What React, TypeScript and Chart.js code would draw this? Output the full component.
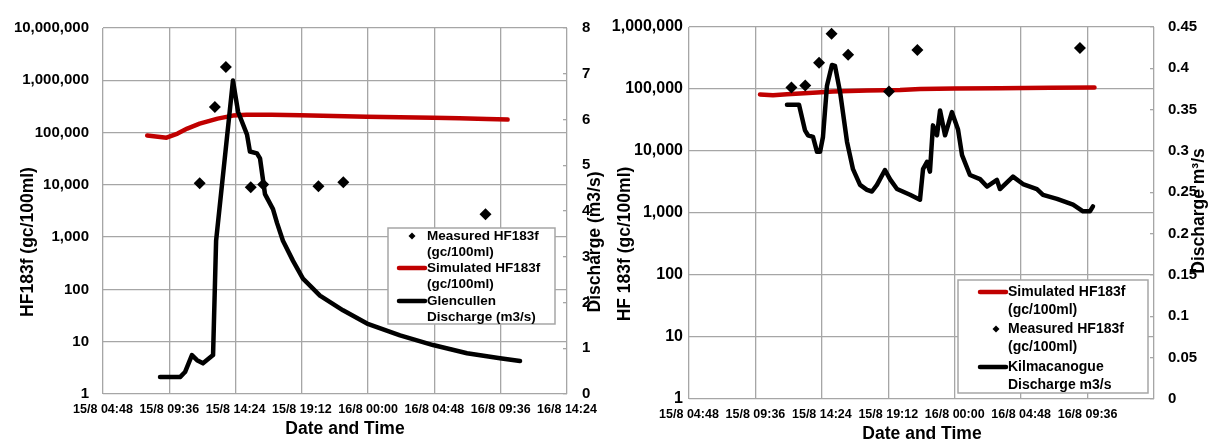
import React, { useEffect, useRef } from 'react';
import { Chart, registerables } from 'chart.js';

Chart.register(...registerables);

const FONT = "'Liberation Sans', Arial, Helvetica, sans-serif";
const GRID = '#a6a6a6';
const RED = '#c00000';

// ---------- axes (x in hours after 15/8 00:00) ----------
const xTickHours = [4.8, 9.6, 14.4, 19.2, 24, 28.8, 33.6, 38.4];
const xTickLabelsLeft = ['15/8 04:48', '15/8 09:36', '15/8 14:24', '15/8 19:12', '16/8 00:00', '16/8 04:48', '16/8 09:36', '16/8 14:24'];
const xTickLabelsRight = ['15/8 04:48', '15/8 09:36', '15/8 14:24', '15/8 19:12', '16/8 00:00', '16/8 04:48', '16/8 09:36', ''];
const logTicksLeft = [1, 10, 100, 1000, 10000, 100000, 1000000, 10000000];
const logTicksRight = [1, 10, 100, 1000, 10000, 100000, 1000000];
const dischargeTicksLeft = [0, 1, 2, 3, 4, 5, 6, 7, 8];
const dischargeTicksRight = [0, 0.05, 0.1, 0.15, 0.2, 0.25, 0.3, 0.35, 0.4, 0.45];

// ---------- Glencullen (left) ----------
const gMeasuredHours = [11.8, 12.9, 13.7, 15.5, 16.4, 20.4, 22.2, 32.5];
const gMeasuredValues = [10700, 310000, 1790000, 9000, 10200, 9400, 11200, 2750];

const gSimHours = [8.0, 9.4, 10.2, 10.9, 11.8, 13.1, 14.2, 15.2, 17.0, 19.1, 21.5, 23.9, 26.3, 28.7, 30.6, 32.6, 34.1];
const gSimValues = [87700, 80000, 95700, 119000, 148000, 185000, 211000, 220000, 220000, 214000, 207000, 201000, 197000, 193000, 188000, 182000, 177000];

const gFlowHours = [8.93, 10.38, 10.74, 11.24, 11.61, 12.04, 12.77, 12.99, 14.21, 14.58, 15.23, 15.44, 15.95, 16.17, 16.53, 17.11, 17.40, 17.83, 18.56, 19.28, 19.79, 20.51, 22.18, 23.92, 26.31, 28.70, 31.16, 33.55, 35.0];
const gFlowValues = [0.37, 0.37, 0.48, 0.85, 0.74, 0.67, 0.85, 3.35, 6.85, 6.17, 5.67, 5.30, 5.26, 5.15, 4.37, 4.04, 3.74, 3.35, 2.91, 2.52, 2.37, 2.15, 1.83, 1.54, 1.28, 1.07, 0.89, 0.78, 0.72];

// ---------- Kilmacanogue (right) ----------
const kMeasuredHours = [12.2, 13.2, 14.2, 15.1, 16.3, 19.25, 21.3, 33.05];
const kMeasuredValues = [106000, 114000, 265000, 776000, 357000, 91000, 427000, 460000];

const kSimHours = [9.93, 10.87, 11.88, 14.05, 15.2, 17.66, 20.05, 21.5, 24.0, 27.27, 30.9, 34.1];
const kSimValues = [81700, 79000, 82000, 88000, 91000, 94600, 96000, 100000, 102000, 103000, 105000, 106000];

const kFlowHours = [11.88, 12.75, 13.18, 13.40, 13.76, 14.05, 14.27, 14.48, 14.77, 15.13, 15.35, 15.72, 16.22, 16.65, 17.16, 17.66, 18.02, 18.38, 18.96, 19.32, 19.83, 20.77, 21.49, 21.71, 22.0, 22.21, 22.43, 22.72, 22.94, 23.30, 23.80, 24.24, 24.53, 25.10, 25.83, 26.33, 27.05, 27.27, 28.21, 28.93, 29.94, 30.38, 31.39, 32.55, 33.27, 33.77, 33.99];
const kFlowValues = [0.356, 0.356, 0.325, 0.319, 0.317, 0.299, 0.299, 0.317, 0.379, 0.404, 0.403, 0.371, 0.311, 0.278, 0.259, 0.253, 0.251, 0.259, 0.277, 0.266, 0.254, 0.247, 0.241, 0.278, 0.287, 0.275, 0.331, 0.319, 0.349, 0.319, 0.347, 0.326, 0.295, 0.271, 0.266, 0.257, 0.265, 0.254, 0.269, 0.260, 0.254, 0.247, 0.242, 0.235, 0.227, 0.227, 0.233];

// ---------- text ----------
const leftTitles = { y: 'HF183f (gc/100ml)', y1: 'Discharge (m3/s)', x: 'Date and Time' };
const rightTitles = { y: 'HF 183f (gc/100ml)', y1: 'Discharge m\u00b3/s', x: 'Date and Time' };
const leftLegend = [
  { kind: 'marker', lines: ['Measured HF183f', '(gc/100ml)'] },
  { kind: 'red', lines: ['Simulated HF183f', '(gc/100ml)'] },
  { kind: 'black', lines: ['Glencullen', 'Discharge (m3/s)'] },
];
const rightLegend = [
  { kind: 'red', lines: ['Simulated HF183f', '(gc/100ml)'] },
  { kind: 'marker', lines: ['Measured HF183f', '(gc/100ml)'] },
  { kind: 'black', lines: ['Kilmacanogue', 'Discharge m3/s'] },
];

const pts = (xs: number[], ys: number[]) => xs.map((x, i) => ({ x, y: ys[i] }));

type Title = { text: string; x: number; y: number; rotate: boolean; size: number };
type LegendBox = {
  x: number; y: number; w: number; h: number;
  symX1: number; symX2: number; markerX: number; textX: number;
  rowY: number[]; lineGap: number; size: number;
  items: { kind: string; lines: string[] }[];
};

function makeDecor(titles: Title[], legend: LegendBox) {
  return {
    id: 'decor',
    afterDraw(chart: any) {
      const ctx = chart.ctx as CanvasRenderingContext2D;
      ctx.save();
      for (const t of titles) {
        ctx.save();
        ctx.translate(t.x, t.y);
        if (t.rotate) ctx.rotate(-Math.PI / 2);
        ctx.font = `bold ${t.size}px ${FONT}`;
        ctx.fillStyle = '#000';
        ctx.textAlign = 'center';
        ctx.textBaseline = 'middle';
        ctx.fillText(t.text, 0, 0);
        ctx.restore();
      }
      const L = legend;
      ctx.fillStyle = '#fff';
      ctx.fillRect(L.x, L.y, L.w, L.h);
      ctx.strokeStyle = GRID;
      ctx.lineWidth = 1.5;
      ctx.strokeRect(L.x, L.y, L.w, L.h);
      L.items.forEach((it, i) => {
        const y = L.rowY[i];
        if (it.kind === 'marker') {
          ctx.fillStyle = '#000';
          ctx.beginPath();
          const r = 3.5;
          ctx.moveTo(L.markerX - r, y);
          ctx.lineTo(L.markerX, y - r);
          ctx.lineTo(L.markerX + r, y);
          ctx.lineTo(L.markerX, y + r);
          ctx.closePath();
          ctx.fill();
        } else {
          ctx.strokeStyle = it.kind === 'red' ? RED : '#000';
          ctx.lineWidth = 4.5;
          ctx.lineCap = 'round';
          ctx.beginPath();
          ctx.moveTo(L.symX1, y);
          ctx.lineTo(L.symX2, y);
          ctx.stroke();
        }
        ctx.fillStyle = '#000';
        ctx.font = `bold ${L.size}px ${FONT}`;
        ctx.textAlign = 'left';
        ctx.textBaseline = 'middle';
        it.lines.forEach((ln, j) => ctx.fillText(ln, L.textX, y + j * L.lineGap));
      });
      ctx.restore();
    },
  };
}

type PanelSpec = {
  left: number; width: number; padTop: number; xHeight: number; yWidth: number; y1Width: number;
  xLabels: string[]; logTicks: number[]; logMax: number; logFont: number; logPad: number;
  dTicks: number[]; dMax: number; dPad: number;
  measured: { x: number; y: number }[]; sim: { x: number; y: number }[]; flow: { x: number; y: number }[];
  titles: Title[]; legend: LegendBox;
};

function Panel({ spec }: { spec: PanelSpec }) {
  const ref = useRef<HTMLCanvasElement | null>(null);
  useEffect(() => {
    if (!ref.current) return;
    const tickFont = (size: number) => ({ family: FONT, weight: 'bold' as const, size });
    const chart = new Chart(ref.current, {
      type: 'scatter',
      data: {
        datasets: [
          {
            label: 'measured', data: spec.measured, yAxisID: 'y', showLine: false,
            pointStyle: 'rectRot', pointRadius: 6, backgroundColor: '#000', borderColor: '#000', borderWidth: 0,
          },
          {
            label: 'flow', data: spec.flow, yAxisID: 'y1', showLine: true, pointRadius: 0,
            borderColor: '#000', borderWidth: 4.5, borderJoinStyle: 'round', borderCapStyle: 'round', tension: 0,
          },
          {
            label: 'sim', data: spec.sim, yAxisID: 'y', showLine: true, pointRadius: 0,
            borderColor: RED, borderWidth: 4.5, borderJoinStyle: 'round', borderCapStyle: 'round', tension: 0,
          },
        ],
      } as any,
      options: {
        animation: false,
        responsive: false,
        events: [],
        layout: { padding: { top: spec.padTop, left: 0, right: 0, bottom: 0 } },
        plugins: { legend: { display: false }, tooltip: { enabled: false } },
        scales: {
          x: {
            type: 'linear', min: xTickHours[0], max: xTickHours[xTickHours.length - 1],
            afterBuildTicks: (s: any) => { s.ticks = xTickHours.map((v) => ({ value: v })); },
            afterFit: (s: any) => { s.height = spec.xHeight; },
            ticks: {
              autoSkip: false, maxRotation: 0, minRotation: 0, padding: 8, color: '#000', font: tickFont(12.5),
              callback: (_v: any, i: number) => spec.xLabels[i],
            },
            grid: { color: GRID, lineWidth: 1.3, drawTicks: false },
            border: { display: false },
          },
          y: {
            type: 'logarithmic', position: 'left', min: 1, max: spec.logMax,
            afterBuildTicks: (s: any) => { s.ticks = spec.logTicks.map((v) => ({ value: v })); },
            afterFit: (s: any) => { s.width = spec.yWidth; },
            ticks: {
              padding: spec.logPad, color: '#000', font: tickFont(spec.logFont),
              callback: (v: any) => Number(v).toLocaleString('en-US'),
            },
            grid: { color: GRID, lineWidth: 1.3, drawTicks: false },
            border: { display: false },
          },
          y1: {
            type: 'linear', position: 'right', min: 0, max: spec.dMax,
            afterBuildTicks: (s: any) => { s.ticks = spec.dTicks.map((v) => ({ value: v })); },
            afterFit: (s: any) => { s.width = spec.y1Width; },
            ticks: {
              padding: spec.dPad, color: '#000', font: tickFont(15),
              callback: (v: any) => String(Math.round(Number(v) * 100) / 100),
            },
            grid: { drawOnChartArea: false, drawTicks: true, tickLength: -4, color: GRID, lineWidth: 1.3 },
            border: { display: false },
          },
        },
      } as any,
      plugins: [makeDecor(spec.titles, spec.legend)],
    });
    return () => chart.destroy();
  }, [spec]);
  return (
    <canvas
      ref={ref}
      width={spec.width}
      height={442}
      style={{ position: 'absolute', left: spec.left, top: 0, width: spec.width, height: 442 }}
    />
  );
}

const leftSpec: PanelSpec = {
  left: 0, width: 605, padTop: 26, xHeight: 48, yWidth: 103, y1Width: 38,
  xLabels: xTickLabelsLeft, logTicks: logTicksLeft, logMax: 10000000, logFont: 15, logPad: 14,
  dTicks: dischargeTicksLeft, dMax: 8, dPad: 19,
  measured: pts(gMeasuredHours, gMeasuredValues), sim: pts(gSimHours, gSimValues), flow: pts(gFlowHours, gFlowValues),
  titles: [
    { text: leftTitles.y, x: 28, y: 242, rotate: true, size: 17.5 },
    { text: leftTitles.y1, x: 595, y: 242, rotate: true, size: 17.5 },
    { text: leftTitles.x, x: 345, y: 429, rotate: false, size: 17.5 },
  ],
  legend: {
    x: 388, y: 228, w: 167, h: 96, symX1: 399, symX2: 425, markerX: 412, textX: 427,
    rowY: [236, 268, 301], lineGap: 16, size: 13.5, items: leftLegend,
  },
};

const rightSpec: PanelSpec = {
  left: 605, width: 606, padTop: 24, xHeight: 43, yWidth: 84, y1Width: 57,
  xLabels: xTickLabelsRight, logTicks: logTicksRight, logMax: 1000000, logFont: 16, logPad: 6,
  dTicks: dischargeTicksRight, dMax: 0.45, dPad: 18,
  measured: pts(kMeasuredHours, kMeasuredValues), sim: pts(kSimHours, kSimValues), flow: pts(kFlowHours, kFlowValues),
  titles: [
    { text: rightTitles.y, x: 20, y: 244, rotate: true, size: 17.5 },
    { text: rightTitles.y1, x: 594, y: 211, rotate: true, size: 17.5 },
    { text: rightTitles.x, x: 317, y: 434, rotate: false, size: 17.5 },
  ],
  legend: {
    x: 353, y: 280, w: 190, h: 113, symX1: 375, symX2: 401, markerX: 391, textX: 403,
    rowY: [292, 329, 367], lineGap: 18, size: 14, items: rightLegend,
  },
};

export default function App() {
  return (
    <div style={{ position: 'absolute', left: 0, top: 0, width: 1211, height: 442, background: '#fff' }}>
      <Panel spec={leftSpec} />
      <Panel spec={rightSpec} />
    </div>
  );
}
